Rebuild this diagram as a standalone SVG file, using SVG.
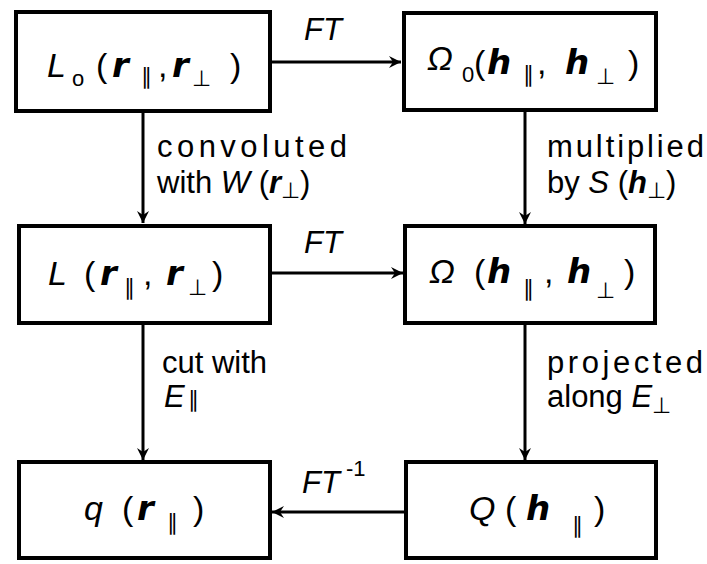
<svg xmlns="http://www.w3.org/2000/svg" width="707" height="564" viewBox="0 0 707 564">
<style>
.box{fill:#fff;stroke:#000;stroke-width:4}
.con{stroke:#000;stroke-width:3;fill:none}
text{font-family:"Liberation Sans",Arial,sans-serif;fill:#000}
.t{font-size:34px}
.i{font-style:italic}
.b{font-family:"DejaVu Sans",sans-serif;font-weight:bold;font-style:italic;font-size:34px}
.s{font-size:22px}
.lab{font-size:31px}
</style>
<defs>
<marker id="ah" markerWidth="14" markerHeight="14" refX="12" refY="7" orient="auto" markerUnits="userSpaceOnUse">
<path d="M0,1 L12,7 L0,13 L4,7 Z" fill="#000"/>
</marker>
</defs>
<g id="connectors">
<line class="con" x1="270" y1="62" x2="401" y2="62" marker-end="url(#ah)"/>
<line class="con" x1="143" y1="111" x2="143" y2="223" marker-end="url(#ah)"/>
<line class="con" x1="525" y1="110" x2="525" y2="224" marker-end="url(#ah)"/>
<line class="con" x1="270" y1="273" x2="403" y2="273" marker-end="url(#ah)"/>
<line class="con" x1="143" y1="323" x2="143" y2="460" marker-end="url(#ah)"/>
<line class="con" x1="525" y1="323" x2="525" y2="460" marker-end="url(#ah)"/>
<line class="con" x1="405" y1="512" x2="272" y2="512" marker-end="url(#ah)"/>
<text class="lab i" x="304" y="40" font-size="33">FT</text>
<text class="lab i" x="304" y="253" font-size="33">FT</text>
<text class="lab" x="302" y="493" font-size="33"><tspan class="i">FT</tspan><tspan class="s" dy="-17"> -1</tspan></text>
<text class="lab" x="157" y="157" textLength="190">convoluted</text>
<text class="lab" x="157" y="193">with <tspan class="i">W</tspan> (<tspan font-family="Liberation Sans" font-weight="bold" font-style="italic">r</tspan><tspan class="s" dy="5">⊥</tspan><tspan dy="-5">)</tspan></text>
<text class="lab" x="547" y="157" textLength="157">multiplied</text>
<text class="lab" x="547" y="193">by <tspan class="i">S</tspan> (<tspan font-family="Liberation Sans" font-weight="bold" font-style="italic">h</tspan><tspan class="s" dy="5">⊥</tspan><tspan dy="-5">)</tspan></text>
<text class="lab" x="162" y="373">cut with</text>
<text class="lab" x="164" y="407"><tspan class="i">E</tspan><tspan class="s" dx="3">∥</tspan></text>
<text class="lab" x="547" y="373" textLength="156">projected</text>
<text class="lab" x="547" y="407">along <tspan class="i">E</tspan><tspan class="s" dy="6">⊥</tspan></text>
</g>
<g id="n1">
<rect class="box" x="16" y="12" width="254" height="99"/>
<text class="t"><tspan class="i" x="47" y="77">L</tspan><tspan class="s" x="72" y="86">o</tspan><tspan x="96" y="77">(</tspan><tspan class="b" x="112" y="77">r</tspan><tspan class="s" x="141" y="84">∥</tspan><tspan x="158" y="77">,</tspan><tspan class="b" x="172" y="77">r</tspan><tspan class="s" x="192" y="86">⊥</tspan><tspan x="230" y="77">)</tspan></text>
</g>
<g id="n2">
<rect class="box" x="404" y="13" width="252" height="97"/>
<text class="t"><tspan class="i" x="427" y="70">Ω</tspan><tspan class="s" x="462" y="82">0</tspan><tspan x="474" y="74">(</tspan><tspan class="b" x="487" y="74">h</tspan><tspan class="s" x="523" y="82">∥</tspan><tspan x="537" y="74">,</tspan><tspan class="b" x="565" y="74">h</tspan><tspan class="s" x="596" y="84">⊥</tspan><tspan x="628" y="74">)</tspan></text>
</g>
<g id="n3">
<rect class="box" x="19" y="226" width="251" height="97"/>
<text class="t"><tspan class="i" x="48" y="285">L</tspan><tspan x="84" y="285">(</tspan><tspan class="b" x="100" y="285">r</tspan><tspan class="s" x="124" y="295">∥</tspan><tspan x="143" y="285">,</tspan><tspan class="b" x="166" y="285">r</tspan><tspan class="s" x="188" y="295">⊥</tspan><tspan x="212" y="285">)</tspan></text>
</g>
<g id="n4">
<rect class="box" x="405" y="226" width="250" height="97"/>
<text class="t"><tspan class="i" x="429" y="283">Ω</tspan><tspan x="474" y="283">(</tspan><tspan class="b" x="487" y="283">h</tspan><tspan class="s" x="523" y="296">∥</tspan><tspan x="544" y="283">,</tspan><tspan class="b" x="567" y="283">h</tspan><tspan class="s" x="596" y="298">⊥</tspan><tspan x="624" y="283">)</tspan></text>
</g>
<g id="n5">
<rect class="box" x="19" y="462" width="251" height="96"/>
<text class="t"><tspan class="i" x="84" y="520">q</tspan><tspan x="122" y="520">(</tspan><tspan class="b" x="137" y="520">r</tspan><tspan class="s" x="167" y="530">∥</tspan><tspan x="193" y="520">)</tspan></text>
</g>
<g id="n6">
<rect class="box" x="406" y="462" width="250" height="96"/>
<text class="t"><tspan class="i" x="469" y="520">Q</tspan><tspan x="505" y="520">(</tspan><tspan class="b" x="526" y="520">h</tspan><tspan class="s" x="572" y="533">∥</tspan><tspan x="594" y="520">)</tspan></text>
</g>
</svg>
